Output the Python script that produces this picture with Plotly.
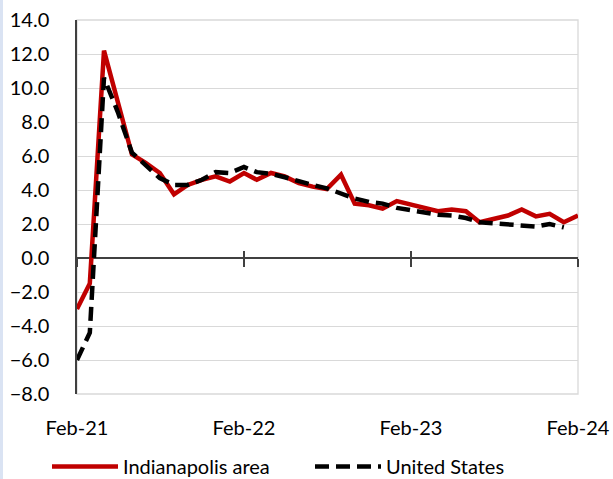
import plotly.graph_objects as go
import pandas as pd

months = pd.date_range("2021-02-01", "2024-02-01", freq="MS")

indianapolis = [-3.0, -1.5, 12.2, 9.2, 6.1, 5.6, 5.0, 3.75, 4.3, 4.6, 4.8, 4.5,
                5.0, 4.6, 5.0, 4.8, 4.4, 4.2, 4.05, 4.9, 3.2, 3.1, 2.9, 3.35,
                3.15, 2.95, 2.75, 2.85, 2.75, 2.1, 2.3, 2.5, 2.85, 2.45, 2.6, 2.1, 2.5]
united_states = [-6.0, -4.4, 10.6, 8.6, 6.2, 5.5, 4.7, 4.3, 4.3, 4.6, 5.05, 5.0,
                 5.35, 5.05, 4.95, 4.75, 4.5, 4.3, 4.1, 3.8, 3.5, 3.3, 3.2, 2.95,
                 2.8, 2.65, 2.55, 2.5, 2.35, 2.1, 2.05, 1.98, 1.92, 1.85, 2.0, 1.8, None]

tick_dates = ["2021-02-01", "2022-02-01", "2023-02-01", "2024-02-01"]
tick_labels = ["Feb-21", "Feb-22", "Feb-23", "Feb-24"]
y_ticks = [-8, -6, -4, -2, 0, 2, 4, 6, 8, 10, 12, 14]

FONT = "Lato"
W, H = 613, 479
L, R, T, B = 77, 35, 20, 85
PW, PH = W - L - R, H - T - B

fig = go.Figure()
fig.add_trace(go.Scatter(x=months, y=indianapolis, name="Indianapolis area",
                         mode="lines", line=dict(color="#c00000", width=4.5)))
fig.add_trace(go.Scatter(x=months, y=united_states, name="United States",
                         mode="lines", line=dict(color="#000000", width=4.5, dash="14px,7px")))
# invisible traces to carry the crossing tick axes
for ax in ["x2", "x3"]:
    fig.add_trace(go.Scatter(x=months, y=[None] * len(months), xaxis=ax, showlegend=False,
                             hoverinfo="skip", mode="lines"))

xr = ["2021-02-01", "2024-02-01"]
fig.update_layout(
    width=W, height=H,
    margin=dict(l=L, r=R, t=T, b=B, autoexpand=False),
    paper_bgcolor="white", plot_bgcolor="white",
    font=dict(family=FONT, size=20, color="#000000"),
    xaxis=dict(range=xr, tickvals=tick_dates, ticktext=tick_labels, showgrid=False,
               zeroline=False, showline=False, ticks="", ticklabelstandoff=20,
               tickfont=dict(size=20), automargin=False, ticklabeloverflow="allow"),
    xaxis2=dict(range=xr, matches="x", overlaying="x", anchor="free", position=8 / 22,
                tickvals=tick_dates, showticklabels=False, ticks="outside", ticklen=8,
                tickwidth=1.5, tickcolor="#404040", showgrid=False, zeroline=False,
                showline=False, automargin=False),
    xaxis3=dict(range=xr, matches="x", overlaying="x", anchor="free", position=8 / 22,
                tickvals=tick_dates, showticklabels=False, ticks="inside", ticklen=7,
                tickwidth=1.5, tickcolor="#404040", showgrid=False, zeroline=False,
                showline=False, automargin=False),
    yaxis=dict(range=[-8, 14], tickvals=y_ticks, tickformat=".1f", showgrid=True,
               gridcolor="#d9d9d9", gridwidth=1.3, zeroline=True, zerolinecolor="#404040",
               zerolinewidth=1.5, showline=True, linecolor="#404040", linewidth=1.5,
               ticks="", ticklabelstandoff=22, tickfont=dict(size=20), automargin=False,
               ticklabeloverflow="allow"),
    legend=dict(orientation="h", xref="paper", yref="paper",
                x=(47 - L) / PW, y=-(447 - (T + PH)) / PH,
                xanchor="left", yanchor="top", itemwidth=66, entrywidth=182,
                entrywidthmode="pixels", font=dict(size=20), bgcolor="rgba(0,0,0,0)"),
    shapes=[
        dict(type="rect", xref="paper", yref="paper", x0=0, x1=1, y0=0, y1=1,
             line=dict(color="#d9d9d9", width=1.3), layer="below"),
        dict(type="rect", xref="paper", yref="paper", x0=-L / PW, x1=(-L + 3) / PW,
             y0=-B / PH, y1=(PH + T) / PH, line=dict(width=0), fillcolor="#dae3f3",
             layer="below"),
    ],
)

fig.write_html("out.html", config={"displayModeBar": False},
               post_script="document.body.style.margin='0';"
                           "document.body.style.overflow='hidden';")
